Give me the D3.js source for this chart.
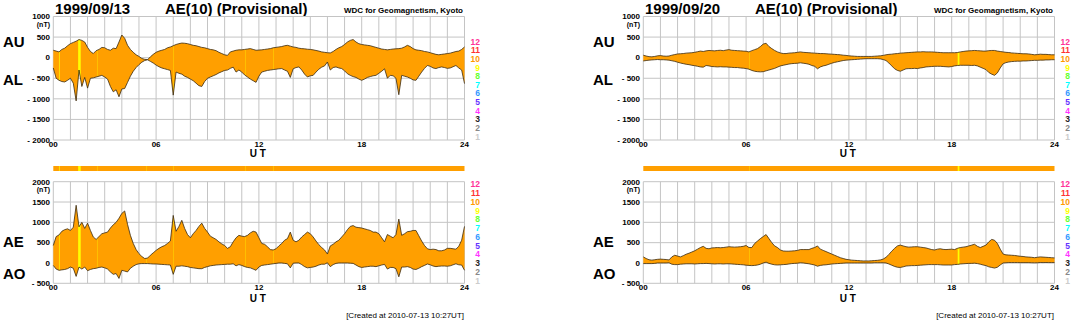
<!DOCTYPE html>
<html>
<head>
<meta charset="utf-8">
<script src="https://cdn.jsdelivr.net/npm/d3@7"></script>
<style>
body { margin: 0; background: #fff; }
text { font-family: "Liberation Sans", Arial, sans-serif; font-weight: bold; }
</style>
</head>
<body>
<div id="chart"></div>
<script>
// 10-minute samples, 00:00 .. 24:00 (145 values each)
const au0913 = [
  180,160,140,200,230,290, 340,370,400,440,420,380, 250,150,100,170,200,250, 240,200,180,230,220,380,
  550,470,300,200,130,70, 30,-20,-40,-50,20,80, 130,160,180,200,240,260, 290,320,340,355,350,340,
  320,300,290,270,250,240, 220,200,190,170,130,100, 70,55,140,160,180,190, 190,200,210,220,200,180,
  185,190,200,210,220,240, 250,260,270,290,300,280, 260,250,230,220,215,205, 200,190,175,160,140,130,
  120,115,150,200,240,270, 320,380,420,440,380,340, 320,310,300,290,270,250, 230,210,200,190,200,210,
  215,220,230,260,300,270, 220,190,180,170,150,140, 120,100,80,70,80,90, 100,110,130,150,160,200,
  260];
const al0913 = [
  -250,-500,-550,-580,-590,-550, -500,-620,-1050,-300,-700,-480, -740,-500,-490,-470,-450,-430, -470,-520,-700,-830,-780,-950,
  -760,-750,-600,-450,-330,-240, -170,-110,-70,-50,-90,-130, -180,-220,-250,-270,-290,-310, -910,-350,-380,-400,-450,-480,
  -520,-560,-620,-680,-700,-580, -500,-470,-440,-410,-370,-340, -310,-300,-260,-230,-350,-300, -350,-420,-470,-520,-560,-600,
  -450,-350,-330,-310,-300,-290, -280,-270,-265,-300,-330,-480, -270,-240,-225,-300,-400,-470, -440,-430,-350,-280,-230,-200,
  -105,-300,-240,-225,-250,-265, -320,-390,-430,-460,-480,-520, -550,-520,-480,-460,-440,-430, -380,-330,-270,-500,-430,-440,
  -500,-900,-430,-450,-470,-500, -540,-550,-450,-350,-260,-190, -210,-250,-265,-240,-225,-240, -260,-250,-220,-190,-250,-300,
  -630];
const ae0913 = [
  430,650,690,780,820,840, 800,880,1420,890,1000,850, 980,800,640,580,650,720, 740,760,860,940,1000,1100,
  1220,1280,950,680,480,330, 230,160,110,120,190,250, 310,360,400,430,480,540, 1170,780,900,1050,850,700,
  620,720,800,900,980,850, 760,660,620,580,520,470, 430,360,400,520,620,680, 660,650,680,740,780,760,
  620,480,460,400,330,320, 350,420,480,560,600,760, 560,520,560,640,700,760, 720,640,540,450,380,320,
  220,420,460,520,560,640, 720,820,900,920,880,870, 860,840,820,800,760,760, 720,620,520,700,660,620,
  700,1080,680,720,770,780, 800,800,670,540,430,350, 330,340,330,300,300,320, 360,360,350,340,410,560,
  900];
const ao0913 = [
  -60,-150,-180,-170,-160,-140, -100,-130,-330,-100,-150,-100, -190,-160,-140,-130,-110,-100, -120,-150,-220,-280,-260,-380,
  -180,-200,-220,-130,-80,-40, -20,-15,-15,-15,-20,-25, -25,-30,-35,-40,-45,-50, -280,-80,-80,-70,-80,-90,
  -110,-120,-130,-140,-140,-110, -90,-70,-60,-50,-45,-40, -35,-30,-30,-20,-70,-40, -60,-90,-110,-120,-150,-180,
  -100,-60,-50,-40,-30,-20, -10,0,0,-10,-20,-120, -5,0,0,-40,-90,-120, -110,-100,-80,-50,-30,-30,
  5,-90,-40,-10,0,0, 0,0,-5,-10,-50,-90, -110,-100,-90,-80,-80,-90, -70,-50,-35,-150,-110,-110,
  -140,-340,-100,-100,-90,-110, -150,-160,-130,-90,-60,-25, -45,-75,-90,-80,-75,-75, -80,-70,-45,-20,-45,-50,
  -180];

const au0920 = [
  60,40,25,20,30,45, 50,40,35,40,60,75, 90,95,100,110,115,120, 130,145,160,150,165,175,
  170,165,175,180,170,185, 195,180,175,170,165,160, 155,140,170,195,220,270, 330,350,270,220,175,140,
  115,100,100,110,115,120, 130,140,130,125,120,115, 110,105,100,100,95,90, 85,80,75,70,60,55,
  45,40,35,30,30,30, 30,30,30,35,40,45, 55,70,80,85,95,100, 110,115,120,125,130,135,
  140,140,145,140,140,140, 135,130,125,120,120,120, 120,120,125,140,150,160, 165,170,175,170,165,160,
  160,170,175,175,160,150, 140,130,125,115,110,105, 100,95,95,90,80,70, 75,85,80,80,75,70,
  70];
const al0920 = [
  -80,-70,-60,-55,-50,-45, -50,-50,-55,-60,-75,-90, -110,-130,-145,-160,-170,-185, -195,-210,-225,-230,-190,-200,
  -215,-220,-225,-220,-225,-225, -230,-235,-240,-240,-250,-255, -265,-280,-310,-330,-340,-345, -340,-320,-300,-280,-260,-230,
  -200,-185,-170,-155,-145,-140, -135,-125,-135,-145,-160,-190, -210,-270,-225,-200,-185,-160, -135,-115,-100,-85,-70,-60,
  -55,-50,-45,-40,-35,-30, -25,-25,-25,-25,-25,-30, -45,-70,-130,-200,-270,-310, -330,-300,-270,-265,-265,-260,
  -265,-250,-240,-225,-220,-215, -210,-210,-210,-215,-220,-225, -215,-200,-190,-185,-185,-185, -185,-190,-185,-200,-230,-260,
  -290,-360,-400,-430,-370,-250, -150,-120,-105,-95,-90,-85, -85,-80,-80,-75,-70,-65, -65,-60,-60,-55,-55,-50,
  -50];
const ae0920 = [
  150,110,80,70,80,90, 95,90,85,75,150,190, 170,150,180,215,240,270, 300,340,380,410,360,350,
  370,375,380,375,380,390, 400,395,390,395,400,410, 430,380,380,480,540,600, 650,700,600,500,420,380,
  320,295,290,290,295,300, 310,330,330,330,330,360, 380,420,340,310,280,250, 220,190,160,130,110,90,
  80,70,65,60,55,50, 50,50,55,60,65,75, 95,140,210,290,360,420, 440,420,400,390,395,400,
  400,390,380,370,350,330, 320,340,350,335,330,335, 340,330,360,380,390,400, 420,440,460,410,380,410,
  440,520,580,560,480,340, 220,200,195,190,185,175, 165,160,150,145,140,130, 140,150,145,140,135,130,
  125];
const ao0920 = [
  -15,-15,-15,-15,-10,0, 0,0,0,5,-30,-40, -40,-30,-25,-20,-20,-20, -25,-20,-15,-15,-10,-15,
  -20,-25,-20,-20,-25,-20, -20,-25,-30,-35,-40,-45, -55,-60,-65,-60,-50,-30, 0,20,-10,-30,-45,-50,
  -45,-40,-35,-25,-15,-10, -5,5,0,-10,-20,-35, -50,-80,-60,-50,-45,-35, -25,-20,-15,-10,-5,0,
  0,0,0,0,0,0, 0,0,0,5,5,5, 5,0,-25,-55,-85,-105, -110,-95,-75,-70,-65,-65,
  -60,-55,-50,-45,-40,-40, -40,-40,-45,-50,-50,-50, -50,-40,-35,-25,-20,-15, -10,-10,-5,-15,-30,-50,
  -65,-95,-110,-125,-105,-50, 0,5,10,10,10,10, 8,8,8,8,5,3, 5,12,10,12,10,10,
  10];

// periods (UT hours) with only 9 stations reporting
const nine0913 = [[0.33, 0.37], [1.45, 1.6], [2.55, 2.57], [5.45, 5.47], [7.0, 7.02], [11.2, 11.22], [12.85, 12.87]];
const nine0920 = [[6.2, 6.22], [18.35, 18.45]];

const topTicks = [1000, 500, 0, -500, -1000, -1500, -2000];
const botTicks = [2000, 1500, 1000, 500, 0, -500];
const hourLabels = ["00", "06", "12", "18", "24"];
const stationLabels = ["12", "11", "10", "9", "8", "7", "6", "5", "4", "3", "2", "1"];
const stationColors = ["#ff3399", "#ff3333", "#ff9900", "#ffff00", "#66ff33", "#00ffff",
                       "#3399ff", "#6633ff", "#ff33ff", "#222222", "#888888", "#cccccc"];

const times = d3.range(145).map(i => i / 6);

const svg = d3.select("#chart").append("svg")
    .attr("width", 1072)
    .attr("height", 322);

const days = [
    { date: "1999/09/13", au: au0913, al: al0913, ae: ae0913, ao: ao0913, nine: nine0913, dx: 0 },
    { date: "1999/09/20", au: au0920, al: al0920, ae: ae0920, ao: ao0920, nine: nine0920, dx: 590 }
];

const fillColor = "#ff9f00";
const nineColor = "#ffff00";

days.forEach((d, k) => drawDay(d, k));

function drawDay(d, k) {
    const g = svg.append("g").attr("transform", `translate(${d.dx},0)`);
    const x = d3.scaleLinear().domain([0, 24]).range([53.3, 464.5]);
    const yTop = d3.scaleLinear().domain([-2000, 1000]).range([140, 16.5]);
    const yBot = d3.scaleLinear().domain([-500, 2000]).range([283.3, 181.7]);

    // titulos
    g.append("text").attr("x", 55).attr("y", 13.5).style("font-size", "15px").text(d.date);
    g.append("text").attr("x", 165).attr("y", 13.5).style("font-size", "15px").text("AE(10) (Provisional)");
    g.append("text").attr("x", 463).attr("y", 12.5).attr("text-anchor", "end")
        .style("font-size", "8px").text("WDC for Geomagnetism, Kyoto");

    panel(g, x, yTop, d.au, d.al, topTicks, d.nine, `c${k}a`, d3.scalePoint(stationLabels, [41.7, 136.7]), 144.2, 156.9);
    panel(g, x, yBot, d.ae, d.ao, botTicks, d.nine, `c${k}b`, d3.scalePoint(stationLabels, [184.3, 280.7]), 287.5, 301.8);

    // etiquetas
    [["AU", 47.3], ["AL", 85], ["AE", 247.3], ["AO", 279.3]].forEach(([t, y]) => {
        g.append("text").attr("x", 3).attr("y", y).style("font-size", "15px").text(t);
    });

    // barra de estaciones
    g.append("rect")
        .attr("x", x(0)).attr("y", 166)
        .attr("width", x(24) - x(0)).attr("height", 5)
        .attr("fill", fillColor);
    g.selectAll("rect.nine")
        .data(d.nine)
        .enter()
        .append("rect")
        .attr("class", "nine")
        .attr("x", n => x(n[0])).attr("y", 166)
        .attr("width", n => x(n[1]) - x(n[0])).attr("height", 5)
        .attr("fill", nineColor);

    g.append("text").attr("x", 464).attr("y", 318).attr("text-anchor", "end")
        .style("font-size", "8px").style("font-weight", "normal")
        .text("[Created at 2010-07-13 10:27UT]");
}

function panel(g, x, y, upper, lower, ticks, nine, id, legendY, xLabelY, utY) {
    const [y0, y1] = y.range();

    // rejilla
    g.append("g").selectAll("line")
        .data(d3.range(25))
        .enter()
        .append("line")
        .attr("x1", h => x(h)).attr("x2", h => x(h))
        .attr("y1", y1).attr("y2", y0)
        .attr("stroke", "#c4c4c4").attr("stroke-width", 1);
    g.append("g").selectAll("line")
        .data(ticks)
        .enter()
        .append("line")
        .attr("x1", x(0)).attr("x2", x(24))
        .attr("y1", v => y(v)).attr("y2", v => y(v))
        .attr("stroke", "#c4c4c4").attr("stroke-width", 1);

    const area = d3.area()
        .x((v, i) => x(times[i]))
        .y0((v, i) => y(lower[i]))
        .y1(v => y(v));

    g.append("clipPath").attr("id", id)
        .append("path").attr("d", area(upper));

    g.append("path")
        .attr("d", area(upper))
        .attr("fill", fillColor);

    g.append("g").attr("clip-path", `url(#${id})`)
        .selectAll("rect")
        .data(nine)
        .enter()
        .append("rect")
        .attr("x", n => x(n[0])).attr("y", y1)
        .attr("width", n => x(n[1]) - x(n[0])).attr("height", y0 - y1)
        .attr("fill", nineColor);

    const line = d3.line().x((v, i) => x(times[i])).y(v => y(v));
    [upper, lower].forEach(s => {
        g.append("path")
            .attr("d", line(s))
            .attr("fill", "none")
            .attr("stroke", "#3a2a10")
            .attr("stroke-width", 0.8);
    });

    // eje Y
    g.append("g").selectAll("text")
        .data(ticks)
        .enter()
        .append("text")
        .attr("x", 50).attr("y", v => y(v)).attr("dy", "0.35em")
        .attr("text-anchor", "end")
        .style("font-size", "8px")
        .text(v => v < 0 ? "- " + Math.abs(v) : v);
    g.append("text")
        .attr("x", 50).attr("y", y(ticks[0]) + 8).attr("dy", "0.35em")
        .attr("text-anchor", "end")
        .style("font-size", "7px")
        .text("(nT)");

    // eje X
    g.append("g").selectAll("text")
        .data(hourLabels)
        .enter()
        .append("text")
        .attr("x", t => x(+t)).attr("y", xLabelY).attr("dy", "0.35em")
        .attr("text-anchor", "middle")
        .style("font-size", "8px")
        .text(t => t);
    g.append("text")
        .attr("x", x(12) - 1).attr("y", utY)
        .attr("text-anchor", "middle")
        .style("font-size", "10px")
        .text("U T");

    // leyenda de estaciones
    g.append("g").selectAll("text")
        .data(stationLabels)
        .enter()
        .append("text")
        .attr("x", 480).attr("y", s => legendY(s)).attr("dy", "0.35em")
        .attr("text-anchor", "end")
        .style("font-size", "8.5px")
        .attr("fill", (s, i) => stationColors[i])
        .text(s => s);
}
</script>
</body>
</html>
